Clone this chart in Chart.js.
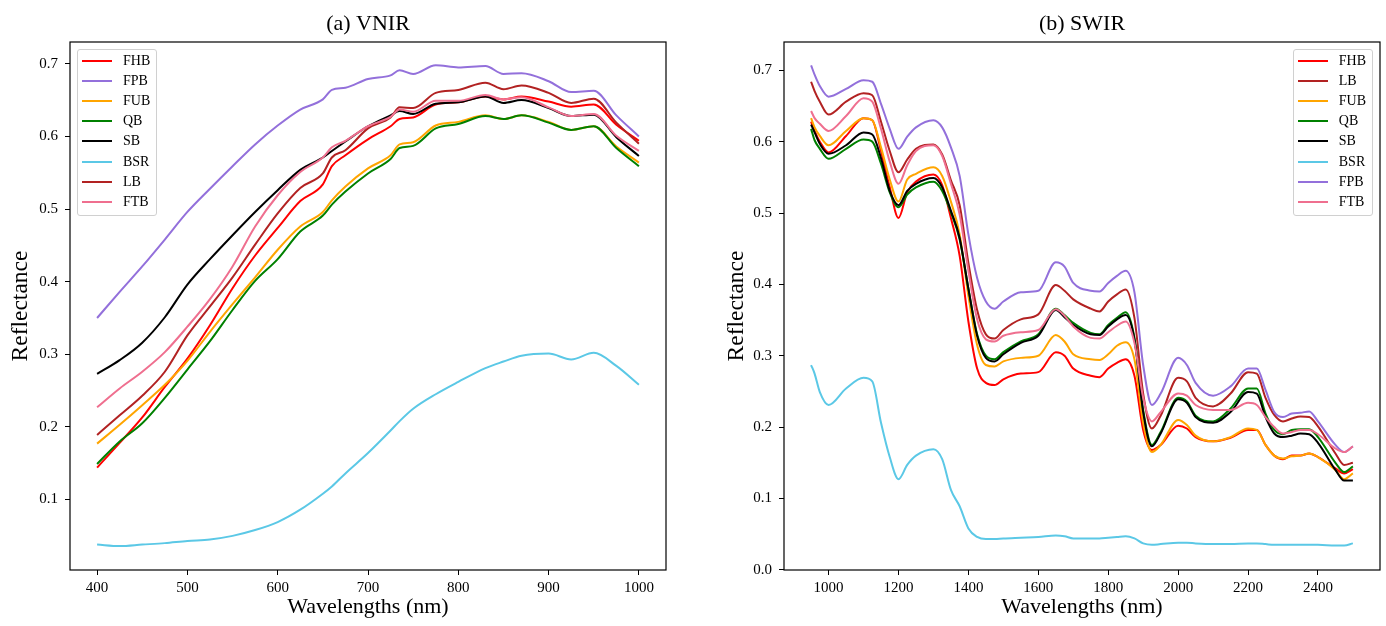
<!DOCTYPE html>
<html>
<head>
<meta charset="utf-8">
<script src="https://cdn.jsdelivr.net/npm/chart.js@4.4.1/dist/chart.umd.min.js"></script>
<style>
  body { margin: 0; background: #fff; }
  #wrap { position: relative; width: 1386px; height: 626px; }
  .panel { position: absolute; top: 0; width: 693px; height: 626px; }
  .legend {
    position: absolute; border: 1px solid #d0d0d0; border-radius: 3px;
    background: rgba(255, 255, 255, 0.8); padding: 1px 6px 3px 4px;
    font: 14px "Liberation Serif", "Times New Roman", serif; color: #000;
  }
  .legend .row { height: 20.1px; display: flex; align-items: center; white-space: nowrap; }
  .legend .sw { display: inline-block; width: 30px; height: 2px; margin-right: 11px; }
</style>
</head>
<body>
<div id="wrap">
  <div class="panel" id="panelA" style="left:0"><canvas id="vnirChart" width="693" height="626"></canvas></div>
  <div class="panel" id="panelB" style="left:693px"><canvas id="swirChart" width="693" height="626"></canvas></div>
</div>
<script>
const serif = '"Liberation Serif", "Times New Roman", serif';

// (a) VNIR
const vnirWl = [400, 425, 450, 475, 500, 525, 550, 575, 600, 625, 650, 660, 675, 700, 725, 735, 750, 775, 800, 830, 850, 870, 900, 925, 950, 975, 1000];
const vnirFHB = [0.144, 0.178, 0.213, 0.255, 0.294, 0.340, 0.391, 0.436, 0.474, 0.511, 0.534, 0.559, 0.574, 0.596, 0.614, 0.624, 0.626, 0.644, 0.647, 0.655, 0.651, 0.655, 0.648, 0.641, 0.644, 0.616, 0.594];
const vnirFPB = [0.350, 0.386, 0.421, 0.458, 0.496, 0.528, 0.559, 0.589, 0.615, 0.637, 0.651, 0.664, 0.667, 0.679, 0.684, 0.691, 0.686, 0.698, 0.695, 0.697, 0.686, 0.687, 0.676, 0.661, 0.663, 0.629, 0.600];
const vnirFUB = [0.177, 0.203, 0.230, 0.258, 0.291, 0.331, 0.369, 0.406, 0.444, 0.476, 0.496, 0.512, 0.531, 0.556, 0.574, 0.589, 0.592, 0.615, 0.620, 0.629, 0.624, 0.629, 0.620, 0.609, 0.614, 0.586, 0.564];
const vnirQB  = [0.149, 0.180, 0.205, 0.240, 0.279, 0.318, 0.361, 0.401, 0.431, 0.469, 0.491, 0.506, 0.524, 0.549, 0.569, 0.584, 0.587, 0.611, 0.617, 0.628, 0.624, 0.629, 0.619, 0.609, 0.614, 0.584, 0.559];
const vnirSB  = [0.273, 0.292, 0.316, 0.351, 0.396, 0.431, 0.464, 0.496, 0.526, 0.554, 0.571, 0.580, 0.593, 0.614, 0.629, 0.635, 0.631, 0.645, 0.647, 0.655, 0.646, 0.650, 0.639, 0.628, 0.630, 0.599, 0.573];
const vnirBSR = [0.038, 0.036, 0.038, 0.040, 0.043, 0.045, 0.050, 0.058, 0.069, 0.086, 0.108, 0.118, 0.136, 0.164, 0.195, 0.208, 0.225, 0.245, 0.262, 0.281, 0.290, 0.298, 0.301, 0.293, 0.302, 0.284, 0.258];
const vnirLB  = [0.189, 0.216, 0.243, 0.276, 0.326, 0.366, 0.406, 0.451, 0.494, 0.529, 0.549, 0.571, 0.581, 0.611, 0.626, 0.640, 0.639, 0.660, 0.664, 0.674, 0.665, 0.670, 0.660, 0.646, 0.652, 0.619, 0.590];
const vnirFTB = [0.227, 0.253, 0.276, 0.303, 0.338, 0.376, 0.421, 0.476, 0.519, 0.551, 0.571, 0.585, 0.594, 0.614, 0.627, 0.637, 0.634, 0.649, 0.649, 0.657, 0.651, 0.654, 0.640, 0.628, 0.631, 0.601, 0.580];

// (b) SWIR
const swirWl = [950, 960, 975, 1000, 1050, 1100, 1125, 1150, 1175, 1200, 1225, 1250, 1300, 1325, 1350, 1375, 1400, 1425, 1450, 1475, 1500, 1550, 1600, 1650, 1675, 1700, 1750, 1775, 1800, 1825, 1850, 1875, 1900, 1925, 1950, 2000, 2025, 2050, 2100, 2150, 2200, 2225, 2250, 2275, 2300, 2325, 2350, 2375, 2400, 2450, 2475, 2500];
const swirFHB = [0.628, 0.615, 0.600, 0.585, 0.608, 0.633, 0.630, 0.587, 0.536, 0.493, 0.529, 0.544, 0.554, 0.539, 0.493, 0.440, 0.348, 0.282, 0.262, 0.259, 0.267, 0.275, 0.277, 0.305, 0.300, 0.282, 0.272, 0.270, 0.282, 0.290, 0.295, 0.272, 0.196, 0.168, 0.175, 0.202, 0.198, 0.186, 0.180, 0.185, 0.196, 0.196, 0.175, 0.160, 0.155, 0.160, 0.160, 0.163, 0.158, 0.142, 0.135, 0.141];
const swirLB  = [0.684, 0.671, 0.656, 0.638, 0.656, 0.668, 0.665, 0.628, 0.587, 0.557, 0.575, 0.590, 0.596, 0.582, 0.546, 0.511, 0.430, 0.364, 0.330, 0.324, 0.336, 0.351, 0.358, 0.399, 0.391, 0.379, 0.366, 0.362, 0.376, 0.386, 0.393, 0.353, 0.247, 0.198, 0.216, 0.269, 0.264, 0.241, 0.229, 0.247, 0.277, 0.275, 0.241, 0.217, 0.208, 0.212, 0.215, 0.214, 0.201, 0.163, 0.147, 0.150];
const swirFUB = [0.633, 0.620, 0.608, 0.595, 0.615, 0.633, 0.630, 0.592, 0.547, 0.516, 0.547, 0.555, 0.564, 0.552, 0.516, 0.470, 0.384, 0.315, 0.287, 0.285, 0.292, 0.297, 0.300, 0.329, 0.320, 0.302, 0.295, 0.294, 0.302, 0.314, 0.319, 0.295, 0.206, 0.165, 0.175, 0.210, 0.203, 0.188, 0.180, 0.186, 0.198, 0.196, 0.175, 0.160, 0.156, 0.159, 0.160, 0.163, 0.158, 0.140, 0.127, 0.135];
const swirQB  = [0.618, 0.602, 0.590, 0.576, 0.590, 0.603, 0.600, 0.569, 0.529, 0.508, 0.526, 0.536, 0.544, 0.531, 0.501, 0.463, 0.394, 0.330, 0.300, 0.295, 0.305, 0.320, 0.330, 0.366, 0.357, 0.346, 0.332, 0.330, 0.343, 0.353, 0.361, 0.325, 0.224, 0.175, 0.193, 0.241, 0.236, 0.216, 0.208, 0.226, 0.254, 0.254, 0.219, 0.196, 0.190, 0.196, 0.197, 0.197, 0.186, 0.150, 0.137, 0.145];
const swirSB  = [0.624, 0.613, 0.597, 0.583, 0.595, 0.613, 0.610, 0.577, 0.531, 0.511, 0.531, 0.541, 0.549, 0.536, 0.503, 0.465, 0.394, 0.328, 0.297, 0.292, 0.302, 0.318, 0.328, 0.364, 0.354, 0.343, 0.330, 0.329, 0.341, 0.351, 0.357, 0.323, 0.221, 0.173, 0.191, 0.239, 0.234, 0.214, 0.206, 0.221, 0.249, 0.247, 0.214, 0.191, 0.186, 0.188, 0.191, 0.190, 0.178, 0.140, 0.125, 0.125];
const swirBSR = [0.287, 0.275, 0.249, 0.231, 0.254, 0.269, 0.264, 0.206, 0.158, 0.127, 0.147, 0.160, 0.169, 0.155, 0.112, 0.089, 0.058, 0.046, 0.043, 0.043, 0.044, 0.045, 0.046, 0.048, 0.047, 0.044, 0.044, 0.044, 0.045, 0.046, 0.047, 0.044, 0.037, 0.035, 0.036, 0.038, 0.038, 0.037, 0.036, 0.036, 0.037, 0.037, 0.036, 0.035, 0.035, 0.035, 0.035, 0.035, 0.035, 0.034, 0.034, 0.037];
const swirFPB = [0.707, 0.694, 0.678, 0.663, 0.674, 0.686, 0.684, 0.653, 0.618, 0.590, 0.607, 0.620, 0.630, 0.620, 0.592, 0.552, 0.470, 0.409, 0.376, 0.366, 0.376, 0.389, 0.391, 0.431, 0.425, 0.402, 0.391, 0.390, 0.402, 0.412, 0.419, 0.389, 0.287, 0.231, 0.247, 0.297, 0.287, 0.262, 0.244, 0.257, 0.282, 0.282, 0.252, 0.221, 0.214, 0.219, 0.220, 0.222, 0.208, 0.175, 0.165, 0.173];
const swirFTB = [0.643, 0.633, 0.625, 0.615, 0.636, 0.661, 0.656, 0.618, 0.572, 0.541, 0.567, 0.587, 0.595, 0.580, 0.541, 0.498, 0.419, 0.351, 0.323, 0.320, 0.328, 0.333, 0.336, 0.365, 0.356, 0.341, 0.325, 0.324, 0.333, 0.342, 0.348, 0.318, 0.241, 0.208, 0.221, 0.247, 0.244, 0.231, 0.224, 0.224, 0.234, 0.231, 0.214, 0.200, 0.191, 0.193, 0.196, 0.196, 0.190, 0.170, 0.165, 0.173];

const vnirXTicks = [400, 500, 600, 700, 800, 900, 1000];
const vnirYTicks = [0.1, 0.2, 0.3, 0.4, 0.5, 0.6, 0.7];
const swirXTicks = [1000, 1200, 1400, 1600, 1800, 2000, 2200, 2400];
const swirYTicks = [0.0, 0.1, 0.2, 0.3, 0.4, 0.5, 0.6, 0.7];

const colors = {
    FHB: '#ff0000', FPB: '#9370db', FUB: '#ffa500', QB: '#008000',
    SB: '#000000', BSR: '#5bc8e6', LB: '#b22222', FTB: '#ef6f8f'
};

// last series on top, like the original plot
function makeDatasets(wl, series) {
    const n = series.length;
    return series.map((s, i) => ({
        label: s.name,
        data: wl.map((x, j) => ({ x: x, y: s.values[j] })),
        borderColor: colors[s.name],
        backgroundColor: colors[s.name],
        order: n - i
    }));
}

const frameBox = {
    id: 'frameBox',
    afterDatasetsDraw(chart) {
        const { ctx, chartArea: a } = chart;
        ctx.save();
        ctx.strokeStyle = '#000';
        ctx.lineWidth = 1.2;
        ctx.strokeRect(a.left, a.top, a.right - a.left, a.bottom - a.top);
        ctx.restore();
    }
};

function makeOptions(p) {
    return {
        responsive: false,
        animation: false,
        layout: { padding: { left: p.padLeft, right: p.padRight, top: 0, bottom: 0 } },
        elements: {
            point: { radius: 0 },
            line: { borderWidth: 2, cubicInterpolationMode: 'monotone' }
        },
        plugins: {
            legend: { display: false },
            tooltip: { enabled: false },
            title: {
                display: true, fullSize: false, text: p.title, color: '#000',
                font: { family: serif, size: 22, weight: 'normal' },
                padding: { top: 11, bottom: 4.6 }
            }
        },
        scales: {
            x: {
                type: 'linear', min: p.xMin, max: p.xMax,
                afterBuildTicks: s => { s.ticks = p.xTicks.map(v => ({ value: v })); },
                afterFit: s => { s.height = 56; },
                border: { display: false },
                grid: { drawOnChartArea: false, drawTicks: true, tickLength: 5, color: '#000' },
                ticks: { color: '#000', padding: 4, autoSkip: false, maxRotation: 0, font: { family: serif, size: 15 }, callback: v => String(v) },
                title: {
                    display: true, text: 'Wavelengths (nm)', color: '#000',
                    font: { family: serif, size: 22 }, padding: { top: 0, bottom: 6 }
                }
            },
            y: {
                type: 'linear', min: p.yMin, max: p.yMax,
                afterBuildTicks: s => { s.ticks = p.yTicks.map(v => ({ value: v })); },
                afterFit: s => { s.width = p.yWidth; },
                border: { display: false },
                grid: { drawOnChartArea: false, drawTicks: true, tickLength: 5, color: '#000' },
                ticks: { color: '#000', padding: 7, font: { family: serif, size: 15 }, callback: v => v.toFixed(1) },
                title: {
                    display: true, text: 'Reflectance', color: '#000',
                    font: { family: serif, size: 23.5 }, padding: { top: 7, bottom: 0 }
                }
            }
        }
    };
}

function addLegend(chart, panelId, names, side) {
    const panel = document.getElementById(panelId);
    const box = document.createElement('div');
    box.className = 'legend';
    names.forEach(name => {
        const row = document.createElement('div');
        row.className = 'row';
        row.innerHTML = `<span class="sw" style="background:${colors[name]}"></span><span>${name}</span>`;
        box.appendChild(row);
    });
    panel.appendChild(box);
    const a = chart.chartArea;
    box.style.top = (a.top + 7) + 'px';
    if (side === 'left') {
        box.style.left = (a.left + 7) + 'px';
    } else {
        box.style.right = (chart.width - a.right + 7) + 'px';
    }
}

const vnirSeries = [
    { name: 'FHB', values: vnirFHB }, { name: 'FPB', values: vnirFPB },
    { name: 'FUB', values: vnirFUB }, { name: 'QB', values: vnirQB },
    { name: 'SB', values: vnirSB }, { name: 'BSR', values: vnirBSR },
    { name: 'LB', values: vnirLB }, { name: 'FTB', values: vnirFTB }
];
const swirSeries = [
    { name: 'FHB', values: swirFHB }, { name: 'LB', values: swirLB },
    { name: 'FUB', values: swirFUB }, { name: 'QB', values: swirQB },
    { name: 'SB', values: swirSB }, { name: 'BSR', values: swirBSR },
    { name: 'FPB', values: swirFPB }, { name: 'FTB', values: swirFTB }
];

const chartA = new Chart(document.getElementById('vnirChart'), {
    type: 'line',
    data: { datasets: makeDatasets(vnirWl, vnirSeries) },
    options: makeOptions({
        title: '(a) VNIR', padLeft: 0, padRight: 27, yWidth: 70,
        xMin: 370, xMax: 1030, yMin: 0.003, yMax: 0.730,
        xTicks: vnirXTicks, yTicks: vnirYTicks
    }),
    plugins: [frameBox]
});

const chartB = new Chart(document.getElementById('swirChart'), {
    type: 'line',
    data: { datasets: makeDatasets(swirWl, swirSeries) },
    options: makeOptions({
        title: '(b) SWIR', padLeft: 23, padRight: 6, yWidth: 68,
        xMin: 872.5, xMax: 2577.5, yMin: -0.0003, yMax: 0.7397,
        xTicks: swirXTicks, yTicks: swirYTicks
    }),
    plugins: [frameBox]
});

addLegend(chartA, 'panelA', vnirSeries.map(s => s.name), 'left');
addLegend(chartB, 'panelB', swirSeries.map(s => s.name), 'right');
</script>
</body>
</html>
